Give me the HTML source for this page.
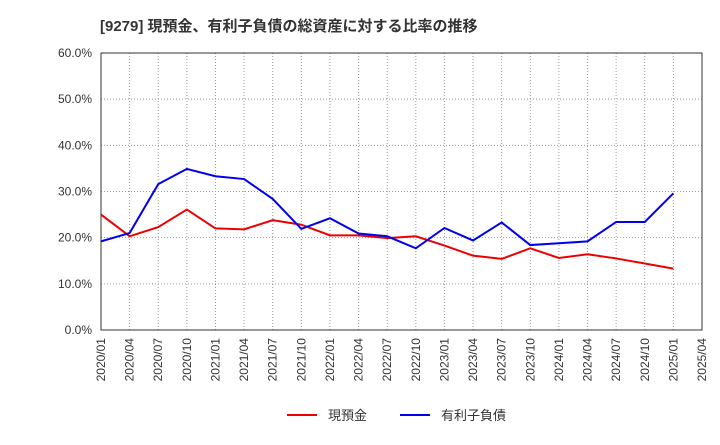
<!DOCTYPE html>
<html><head><meta charset="utf-8"><style>
body{margin:0;background:#fff;font-family:"Liberation Sans","Noto Sans CJK JP",sans-serif;}
</style></head><body>
<svg id="c" width="720" height="440" xmlns="http://www.w3.org/2000/svg">
<text x="100" y="31" font-size="15" font-weight="bold" fill="#333" font-family="Liberation Sans, Noto Sans CJK JP, sans-serif">[9279]  現預金、有利子負債の総資産に対する比率の推移</text>
<g id="grid"></g><g id="axes"></g><g id="series"></g>
<g>
<line x1="287" y1="415" x2="317" y2="415" stroke="#e00" stroke-width="2"/>
<text x="328" y="420" font-size="13" fill="#333" font-family="Liberation Sans, Noto Sans CJK JP, sans-serif">現預金</text>
<line x1="400" y1="415" x2="430" y2="415" stroke="#00e" stroke-width="2"/>
<text x="441" y="420" font-size="13" fill="#333" font-family="Liberation Sans, Noto Sans CJK JP, sans-serif">有利子負債</text>
</g>
</svg>
<script>
const categories=["2020/01","2020/04","2020/07","2020/10","2021/01","2021/04","2021/07","2021/10","2022/01","2022/04","2022/07","2022/10","2023/01","2023/04","2023/07","2023/10","2024/01","2024/04","2024/07","2024/10","2025/01","2025/04"];
const cashValues=[25.0,20.3,22.3,26.1,22.0,21.8,23.8,22.8,20.5,20.5,19.9,20.3,18.3,16.1,15.4,17.7,15.6,16.4,15.5,14.4,13.3];
const debtValues=[19.2,21.0,31.6,34.9,33.3,32.7,28.4,21.9,24.2,20.9,20.3,17.7,22.1,19.4,23.3,18.4,18.8,19.2,23.4,23.4,29.6];
const yTicks=[0,10,20,30,40,50,60];
const NS="http://www.w3.org/2000/svg";
const L=101,R=702,T=53,B=330;
const xs=i=>L+(R-L)*i/(categories.length-1);
const ys=v=>B-(B-T)*v/60;
function mk(tag,attrs,parent){const e=document.createElementNS(NS,tag);for(const k in attrs)e.setAttribute(k,attrs[k]);document.getElementById(parent).appendChild(e);return e;}
categories.forEach((c,i)=>{
 if(i>0&&i<categories.length-1){const g=mk("line",{x1:xs(i),x2:xs(i),y1:T,y2:B,stroke:"#999","stroke-dasharray":"1,2"},"grid");
 
 }
 const x=xs(i);
 const t=mk("text",{x:x+4,y:B+8,"font-size":"12",fill:"#333","text-anchor":"end",transform:`rotate(-90 ${x+4} ${B+8})`},"axes");
 t.textContent=c;
 
 
});
yTicks.forEach(v=>{
 const y=ys(v);
 if(v>0&&v<60){const g=mk("line",{x1:L,x2:R,y1:y,y2:y,stroke:"#999","stroke-dasharray":"1,2"},"grid");
 
 }
 const t=mk("text",{x:L-9,y:y+4,"font-size":"12",fill:"#333","text-anchor":"end"},"axes");
 t.textContent=v.toFixed(1)+"%";
 
 
});
const fr=mk("rect",{x:L,y:T,width:R-L,height:B-T,fill:"none",stroke:"#333","stroke-width":"1"},"axes");


function line(vals,color,name){
 const p=mk("polyline",{points:vals.map((v,i)=>xs(i)+","+ys(v)).join(" "),fill:"none",stroke:color,"stroke-width":"2"},"series");
 
 
}
line(cashValues,"#e00","cash-line");
line(debtValues,"#00e","debt-line");
</script>
</body></html>
